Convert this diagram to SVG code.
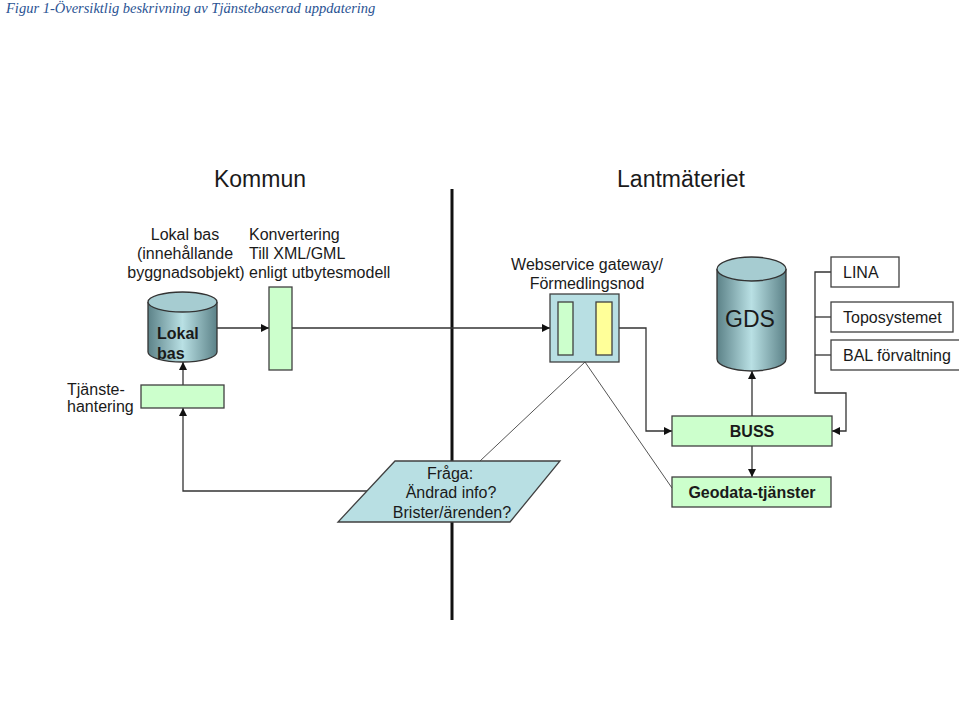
<svg xmlns="http://www.w3.org/2000/svg" width="959" height="722" viewBox="0 0 959 722">
<defs>
<style>
text{font-family:"Liberation Sans",Arial,sans-serif;fill:#1a1a1a}
.lbl{font-size:16px}
.ttl{font-size:23px}
.cap{font-family:"Liberation Serif","Times New Roman",serif;font-style:italic;font-size:14.5px;fill:#2a5393}
.box{fill:#ccffcc;stroke:#404040;stroke-width:1.3}
.wbox{fill:#ffffff;stroke:#404040;stroke-width:1.3}
.conn{fill:none;stroke:#333;stroke-width:1.3}
.thin{fill:none;stroke:#555;stroke-width:1}
.bold{font-weight:bold}
</style>
<linearGradient id="cyl" x1="0" y1="0" x2="1" y2="0">
<stop offset="0" stop-color="#5c8288"/>
<stop offset="0.5" stop-color="#b9e0e4"/>
<stop offset="1" stop-color="#5c8288"/>
</linearGradient>
<marker id="arr" viewBox="0 0 10 10" refX="10" refY="5" markerWidth="8" markerHeight="8" markerUnits="userSpaceOnUse" orient="auto">
<path d="M0,0 L10,5 L0,10 z" fill="#111"/>
</marker>
</defs>
<rect width="959" height="722" fill="#ffffff"/>
<text class="cap" x="6" y="13">Figur 1-Översiktlig beskrivning av Tjänstebaserad uppdatering</text>

<text class="ttl" x="260" y="187" text-anchor="middle">Kommun</text>
<text class="ttl" x="681" y="187" text-anchor="middle">Lantmäteriet</text>

<line x1="452" y1="189" x2="452" y2="620" stroke="#111" stroke-width="3"/>

<g id="connectors">
<line class="conn" x1="217" y1="328" x2="269" y2="328" marker-end="url(#arr)"/>
<line class="conn" x1="292" y1="328" x2="550" y2="328" marker-end="url(#arr)"/>
<line class="conn" x1="183" y1="385" x2="183" y2="362" marker-end="url(#arr)"/>
<polyline class="conn" points="367,491 183,491 183,408" marker-end="url(#arr)"/>
<polyline class="conn" points="619,328 646,328 646,431 672,431" marker-end="url(#arr)"/>
<line class="conn" x1="752" y1="416" x2="752" y2="371" marker-end="url(#arr)"/>
<line class="conn" x1="752" y1="446" x2="752" y2="477" marker-end="url(#arr)"/>
<polyline class="conn" points="831,272 815,272 815,393 846,393 846,431 832,431" marker-end="url(#arr)"/>
<line class="conn" x1="815" y1="317" x2="831" y2="317"/>
<line class="conn" x1="815" y1="355" x2="831" y2="355"/>
<line class="thin" x1="585" y1="362" x2="480" y2="461"/>
<line class="thin" x1="585" y1="362" x2="672" y2="488"/>
</g>

<g id="lokalbas-label">
<text class="lbl" x="185" y="240" text-anchor="middle">Lokal bas</text>
<text class="lbl" x="185" y="259" text-anchor="middle">(innehållande</text>
<text class="lbl" x="186" y="278" text-anchor="middle">byggnadsobjekt)</text>
</g>
<g id="lokalbas">
<path d="M148,302 L148,352 A34.5,10 0 0 0 217,352 L217,302" fill="url(#cyl)" stroke="#333" stroke-width="1.3"/>
<ellipse cx="182.5" cy="302" rx="34.5" ry="10" fill="#a6ccd1" stroke="#333" stroke-width="1.3"/>
<text class="bold" x="157" y="339" font-size="16">Lokal</text>
<text class="bold" x="157" y="359" font-size="16">bas</text>
</g>

<g id="konvertering">
<text class="lbl" x="249" y="240">Konvertering</text>
<text class="lbl" x="249" y="259">Till XML/GML</text>
<text class="lbl" x="249" y="278">enligt utbytesmodell</text>
<rect class="box" x="269" y="287" width="23" height="83"/>
</g>

<g id="tjanstehantering">
<rect class="box" x="141" y="385" width="83" height="23"/>
<text class="lbl" x="67" y="395">Tjänste-</text>
<text class="lbl" x="67" y="412">hantering</text>
</g>

<g id="gateway">
<text class="lbl" x="587" y="270" text-anchor="middle">Webservice gateway/</text>
<text class="lbl" x="587" y="289" text-anchor="middle">Förmedlingsnod</text>
<rect x="550" y="294" width="69" height="68" fill="#b8dfe3" stroke="#404040" stroke-width="1.3"/>
<rect x="558" y="302" width="15" height="53" fill="#ccffcc" stroke="#404040" stroke-width="1.3"/>
<rect x="596" y="302" width="16" height="53" fill="#ffff99" stroke="#404040" stroke-width="1.3"/>
</g>

<g id="gds">
<path d="M717,269 L717,359 A34.5,12 0 0 0 786,359 L786,269" fill="url(#cyl)" stroke="#333" stroke-width="1.3"/>
<ellipse cx="751.5" cy="269" rx="34.5" ry="12" fill="#a6ccd1" stroke="#333" stroke-width="1.3"/>
<text x="750" y="327" font-size="23" text-anchor="middle">GDS</text>
</g>

<g id="lina">
<rect class="wbox" x="831" y="257" width="68" height="30"/>
<text class="lbl" x="843" y="278">LINA</text>
</g>
<g id="toposystemet">
<rect class="wbox" x="831" y="302" width="122" height="30"/>
<text class="lbl" x="843" y="323">Toposystemet</text>
</g>
<g id="bal">
<rect class="wbox" x="831" y="340" width="131" height="30"/>
<text class="lbl" x="843" y="361">BAL förvaltning</text>
</g>

<g id="buss">
<rect class="box" x="672" y="416" width="160" height="30"/>
<text class="bold" x="752" y="437" font-size="16" text-anchor="middle">BUSS</text>
</g>

<g id="geodata">
<rect class="box" x="672" y="477" width="159" height="30"/>
<text class="bold" x="752" y="498" font-size="16" text-anchor="middle">Geodata-tjänster</text>
</g>

<g id="fraga">
<polygon points="395,461 560,461 510,522 338,522" fill="#b8dfe3" stroke="#404040" stroke-width="1.3"/>
<text class="lbl" x="450" y="479" text-anchor="middle">Fråga:</text>
<text class="lbl" x="451" y="498" text-anchor="middle">Ändrad info?</text>
<text class="lbl" x="452" y="518" text-anchor="middle">Brister/ärenden?</text>
</g>
</svg>
